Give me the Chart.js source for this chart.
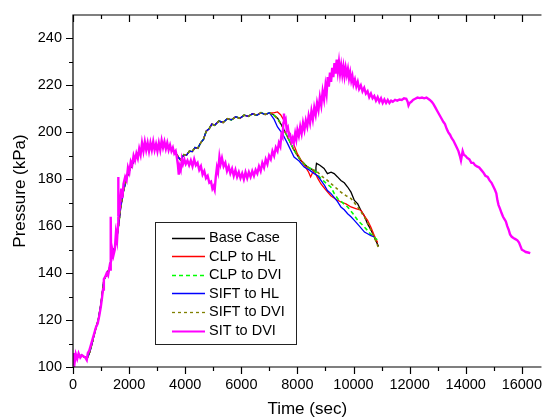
<!DOCTYPE html>
<html>
<head>
<meta charset="utf-8">
<script src="https://cdn.jsdelivr.net/npm/chart.js@4.4.1/dist/chart.umd.min.js"></script>
<style>
  html, body { margin: 0; padding: 0; background: #fff; }
  #wrap { width: 542px; height: 419px; }
</style>
</head>
<body>
<div id="wrap"><canvas id="pressureChart" width="542" height="419"></canvas></div>
<script>
/* pressure vs time — six break cases */

const xTickValues = [0, 2000, 4000, 6000, 8000, 10000, 12000, 14000, 16000];
const yTickValues = [100, 120, 140, 160, 180, 200, 220, 240];

// SIT to DVI (magenta)
const sitTime = [
  0, 30, 60, 100, 150, 200, 260, 320, 380, 440,
  490, 530, 580, 640, 700, 760, 820, 880, 940, 990,
  1030, 1070, 1100, 1150, 1200, 1250, 1300, 1330, 1345, 1360,
  1400, 1440, 1490, 1530, 1570, 1605, 1612, 1620, 1670, 1720,
  1760, 1800, 1860, 1910, 1960, 2010, 2060, 2110, 2160, 2210,
  2260, 2310, 2360, 2410, 2460, 2510, 2560, 2610, 2660, 2710,
  2760, 2810, 2860, 2910, 2960, 3010, 3060, 3110, 3160, 3210,
  3260, 3310, 3360, 3410, 3460, 3510, 3560, 3610, 3660, 3700,
  3740, 3770, 3800, 3840, 3880, 3920, 3970, 4020, 4080, 4140,
  4200, 4260, 4320, 4380, 4440, 4500, 4560, 4620, 4680, 4740,
  4800, 4860, 4920, 4970, 5010, 5050, 5090, 5130, 5170, 5220,
  5260, 5310, 5370, 5430, 5490, 5550, 5610, 5670, 5730, 5790,
  5850, 5910, 5970, 6030, 6090, 6150, 6210, 6270, 6330, 6390,
  6450, 6510, 6570, 6630, 6690, 6750, 6810, 6870, 6930, 6990,
  7050, 7110, 7170, 7230, 7290, 7340, 7390, 7430, 7470, 7500,
  7520, 7540, 7580, 7620, 7660, 7700, 7740, 7790, 7830, 7870,
  7920, 7960, 8000, 8050, 8100, 8150, 8200, 8250, 8300, 8350,
  8400, 8450, 8500, 8550, 8600, 8650, 8700, 8750, 8800, 8850,
  8900, 8950, 9000, 9040, 9080, 9120, 9160, 9200, 9240, 9280,
  9320, 9360, 9400, 9440, 9480, 9520, 9560, 9600, 9640, 9680,
  9720, 9760, 9800, 9840, 9880, 9920, 9960, 10000, 10050, 10100,
  10150, 10200, 10260, 10320, 10380, 10440, 10500, 10560, 10620, 10680,
  10740, 10800, 10860, 10920, 10980, 11040, 11100, 11160, 11220, 11280,
  11340, 11400, 11480, 11560, 11640, 11720, 11800, 11880, 11930, 11960,
  12000, 12060, 12120, 12200, 12280, 12360, 12440, 12520, 12600, 12660,
  12720, 12790, 12850, 12920, 12990, 13060, 13130, 13200, 13260, 13320,
  13380, 13440, 13500, 13560, 13620, 13680, 13740, 13790, 13830, 13860,
  13890, 13930, 13990, 14060, 14130, 14200, 14270, 14330, 14400, 14480,
  14550, 14620, 14700, 14780, 14850, 14920, 14980, 15040, 15090, 15130,
  15170, 15220, 15280, 15330, 15380, 15430, 15480, 15530, 15580, 15640,
  15700, 15770, 15840, 15900, 15950, 16000, 16070, 16140, 16220, 16300
];
const sitPressure = [
  101, 106, 102, 105.5, 103.5, 105.8, 104, 105, 104.5, 104,
  103, 106, 107, 109.5, 112, 114.5, 117, 118.5, 122, 125.5,
  129, 133, 137.5, 138.5, 140, 139, 142.5, 141.5, 164, 145,
  150, 147.5, 150, 157, 154, 161, 181, 164, 168, 176,
  172, 178, 181, 179.5, 185, 183, 187.5, 186, 190, 188,
  191, 189, 193, 190.5, 195.5, 192, 196, 192.5, 195.5, 192,
  195.5, 192.5, 196, 192.5, 195, 192, 195.5, 192.5, 196.5, 193.5,
  196, 193, 195.5, 192.5, 194.5, 192, 193.5, 191, 192, 189.5,
  186, 182, 185.5, 184, 188.5, 186.5, 188.5, 186.5, 188, 186,
  188, 185.5, 188.5, 186, 187, 184, 185.5, 182, 183.5, 180.5,
  181.5, 178.5, 179, 176, 177, 175.5, 181, 185, 183, 189.5,
  186.5, 189, 185.5, 187, 183.5, 185.5, 182.5, 184.5, 181.5, 184,
  181, 183, 180.5, 182.5, 180, 183, 180.5, 183, 181, 183.5,
  181.5, 184, 182.5, 185.5, 183.5, 187, 185, 188.5, 186.5, 190,
  188.5, 192, 190, 193.5, 192, 195.5, 194, 199, 198, 204,
  208, 204.5, 205.5, 201, 202, 198.5, 199, 196, 197.5, 195.5,
  199.5, 197, 201, 198.5, 202.5, 199.5, 204, 201, 205, 202.5,
  207, 204, 209, 205.5, 210.5, 207.5, 212.5, 209.5, 215, 211.5,
  217.5, 214, 220, 216.5, 223.5, 219.5, 225.5, 221.5, 227.5, 223.5,
  229.5, 225, 231, 226, 230, 225, 228.5, 224.5, 228, 224,
  227.5, 224.5, 227, 223, 225.5, 222, 224, 220.5, 222.5, 219.5,
  221.5, 218.5, 220, 217.5, 219, 216.5, 217.5, 215, 216.5, 214.5,
  215.5, 213.5, 215, 213, 214.5, 212.5, 214, 212.5, 213.8, 212.5,
  213.5, 213, 213.8, 213.5, 214, 213.8, 214.5, 214.3, 213, 211.5,
  212.5, 213, 213.8, 214.3, 214.8, 214.6, 214.8, 214.5, 214.8, 214.3,
  213.8, 213, 212, 210.5, 209, 207.5, 206, 204.5, 203.5, 201.5,
  200, 199, 197.5, 196.5, 195, 193.5, 192, 190, 188, 190,
  192, 190.5, 190, 189, 188.5, 187, 187, 186, 185.5, 185,
  184, 183, 181.5, 181, 179.5, 178.5, 177, 175.5, 174, 171,
  169, 167.5, 165.5, 164, 163, 162, 160, 158.5, 156.5, 155.5,
  155, 154.5, 154, 153, 151.5, 150, 149.5, 149, 148.8, 148.5
];

// shared path of the other five cases up to ~7000 s
const commonTime = [
  0, 100, 200, 300, 450, 500, 600, 700, 800, 900,
  1000, 1100, 1200, 1300, 1400, 1500, 1600, 1700, 1800, 1900,
  2000, 2200, 2400, 2600, 2800, 3000, 3200, 3400, 3600, 3700,
  3780, 3830, 3880, 3950, 4050, 4150, 4250, 4350, 4450, 4550,
  4650, 4750, 4850, 4950, 5050, 5200, 5350, 5500, 5650, 5800,
  5950, 6100, 6250, 6400, 6550, 6700, 6850, 7000
];
const commonPressure = [
  103, 105, 104.5, 105, 104, 103.5, 106.5, 111, 116, 120,
  127, 137, 139.5, 142, 149, 151, 158, 168, 175, 180,
  183.5, 188.5, 192.5, 193.5, 193.5, 193.5, 194.5, 193.5, 192, 190.5,
  189, 188.3, 189, 190.5, 190.3, 192, 191.8, 193.5, 193.2, 195.5,
  197, 200.5, 201.5, 203.5, 203, 204.8, 204.2, 205.8, 205.3, 206.6,
  206, 207.3, 206.8, 207.9, 207.3, 208.4, 207.6, 208.3
];

// tails after the split
const baseTime = [7150, 7300, 7470, 7650, 7880, 8120, 8360, 8500, 8640, 8660, 8680, 8800, 8950, 9070, 9200, 9310, 9430, 9550, 9670, 9790, 9910, 10030, 10150, 10260, 10380, 10500, 10620, 10740, 10890];
const basePressure = [207.5, 205.9, 202.3, 198, 192.4, 188, 185.2, 184.3, 183.2, 185, 186.8, 186, 184.6, 182.4, 183, 182.4, 181, 179.5, 178.5, 176.7, 174.5, 171, 169.5, 166.8, 164.5, 161, 158.5, 155.3, 151.4];

const clpHlTime = [7150, 7290, 7400, 7500, 7580, 7670, 7760, 7880, 8000, 8140, 8290, 8400, 8470, 8540, 8600, 8720, 8840, 9010, 9190, 9370, 9550, 9730, 9910, 10080, 10260, 10380, 10500, 10620, 10740, 10860];
const clpHlPressure = [208.3, 208.7, 207.5, 205.5, 203.7, 201, 198, 194.5, 190.8, 188, 185.2, 183, 181, 182.8, 183.5, 180.5, 178, 175.5, 173, 171.5, 170.3, 169.5, 168.2, 167.5, 166.8, 164.5, 162.5, 159.5, 156, 153];

const clpDviTime = [7150, 7290, 7470, 7650, 7880, 8120, 8360, 8600, 8720, 8840, 9010, 9190, 9310, 9430, 9610, 9790, 9970, 10150, 10320, 10500, 10620, 10740, 10860];
const clpDviPressure = [207.3, 205.9, 202.3, 198, 192.4, 188, 185.2, 183.8, 182, 180.3, 178.5, 176.7, 174, 171.8, 170, 168.2, 165.5, 162.5, 160.5, 158.2, 156.5, 155.3, 154];

const siftHlTime = [7050, 7170, 7290, 7470, 7650, 7880, 8060, 8240, 8420, 8600, 8720, 8840, 8960, 9070, 9190, 9310, 9430, 9550, 9670, 9790, 9910, 10030, 10210, 10390, 10500, 10620, 10720];
const siftHlPressure = [207.5, 205.5, 202.3, 199.4, 195.2, 189.5, 187.8, 185.2, 184, 182.4, 181.5, 179.5, 177.5, 175.2, 174, 172.3, 170.5, 168.2, 167, 165.3, 164, 162.5, 160, 157.5, 156.8, 156, 155.5];

const siftDviTime = [7150, 7290, 7470, 7650, 7880, 8120, 8360, 8600, 8720, 8900, 9070, 9310, 9550, 9730, 9910, 10030, 10150, 10270, 10390, 10500, 10620, 10750, 10880];
const siftDviPressure = [207.5, 205.9, 202.3, 198, 192.4, 188, 185.2, 183.8, 183, 181, 179.5, 177, 174.5, 173, 171.8, 170, 168.2, 166, 163.9, 161.5, 158.2, 155, 151.1];

const seriesNames = ['Base Case', 'CLP to HL', 'CLP to DVI', 'SIFT to HL', 'SIFT to DVI', 'SIT to DVI'];

const FONT = "'Liberation Sans', Arial, sans-serif";

function pts(t, p) { return t.map((v, i) => ({ x: v, y: p[i] })); }
function withCommon(t, p) {
  const n = commonTime.findIndex(v => v >= t[0]);
  const k = n < 0 ? commonTime.length : n;
  return pts(commonTime.slice(0, k).concat(t), commonPressure.slice(0, k).concat(p));
}

const styles = [
  { color: '#000000', dash: [], width: 1.3 },
  { color: '#ff0000', dash: [], width: 1.3 },
  { color: '#00ff00', dash: [4, 3], width: 1.6 },
  { color: '#0000ff', dash: [], width: 1.3 },
  { color: '#808000', dash: [3, 3], width: 1.6 },
  { color: '#ff00ff', dash: [], width: 2.4 },
];

const seriesData = [
  withCommon(baseTime, basePressure),
  withCommon(clpHlTime, clpHlPressure),
  withCommon(clpDviTime, clpDviPressure),
  withCommon(siftHlTime, siftHlPressure),
  withCommon(siftDviTime, siftDviPressure),
  pts(sitTime, sitPressure),
];

const datasets = seriesNames.map((name, i) => ({
  label: name,
  data: seriesData[i],
  borderColor: styles[i].color,
  borderDash: styles[i].dash,
  borderWidth: styles[i].width,
  pointRadius: 0,
  tension: 0,
  fill: false,
  order: i === 5 ? 0 : 6 - i,
}));

// frame, major + minor tick marks, boxed legend
const frame = {
  id: 'frame',
  afterDatasetsDraw(chart) {
    const { ctx, chartArea: a, scales: { x, y } } = chart;
    ctx.save();
    ctx.strokeStyle = '#000';
    ctx.lineWidth = 1.2;
    ctx.setLineDash([]);
    ctx.beginPath();
    ctx.moveTo(a.right, a.top); ctx.lineTo(a.left, a.top);
    ctx.lineTo(a.left, a.bottom); ctx.lineTo(a.right, a.bottom);
    x.ticks.forEach(t => {
      [[t.value, 7], [t.value + 1000, 4]].forEach(([v, len]) => {
        if (v > x.max) return;
        const px = Math.round(x.getPixelForValue(v)) + 0.5;
        ctx.moveTo(px, a.bottom); ctx.lineTo(px, a.bottom + len);
        ctx.moveTo(px, a.top); ctx.lineTo(px, a.top + len);
      });
    });
    y.ticks.forEach(t => {
      [[t.value, 7], [t.value + 10, 4]].forEach(([v, len]) => {
        if (v >= y.max) return;
        const py = Math.round(y.getPixelForValue(v)) + 0.5;
        ctx.moveTo(a.left - len, py); ctx.lineTo(a.left, py);
      });
    });
    ctx.stroke();

    // legend
    const box = { x: 155.5, y: 222.5, w: 141, h: 122 };
    ctx.fillStyle = '#fff';
    ctx.fillRect(box.x, box.y, box.w, box.h);
    ctx.lineWidth = 1;
    ctx.strokeStyle = '#222';
    ctx.strokeRect(box.x, box.y, box.w, box.h);
    ctx.font = '14.5px ' + FONT;
    ctx.textBaseline = 'middle';
    ctx.fillStyle = '#000';
    seriesNames.forEach((name, i) => {
      const ry = 237.5 + i * 18.6;
      ctx.beginPath();
      ctx.strokeStyle = styles[i].color;
      ctx.lineWidth = i === 5 ? 2 : 1.3;
      ctx.setLineDash(styles[i].dash);
      ctx.moveTo(172, Math.round(ry) + 0.5); ctx.lineTo(205, Math.round(ry) + 0.5);
      ctx.stroke();
      ctx.fillText(name, 209, ry + 0.5);
    });
    ctx.restore();
  },
};

new Chart(document.getElementById('pressureChart').getContext('2d'), {
  type: 'line',
  data: { datasets },
  plugins: [frame],
  options: {
    responsive: false,
    animation: false,
    layout: { padding: { top: 15, right: 0, left: 0, bottom: 0 } },
    plugins: { legend: { display: false }, tooltip: { enabled: false } },
    scales: {
      x: {
        type: 'linear', min: 0, max: 16700,
        afterFit: s => { s.height = 52; },
        afterBuildTicks: s => { s.ticks = xTickValues.map(v => ({ value: v })); },
        grid: { display: false, drawTicks: true, tickLength: 9 },
        border: { display: false },
        ticks: {
          autoSkip: false, maxRotation: 0, padding: 0,
          color: '#000', font: { family: FONT, size: 14.5 },
          callback: v => String(v),
        },
        title: { display: true, text: 'Time (sec)', color: '#000', font: { family: FONT, size: 17, lineHeight: 1 }, padding: { top: 0, bottom: 1 } },
      },
      y: {
        type: 'linear', min: 100, max: 250,
        afterFit: s => { s.width = 73; },
        afterBuildTicks: s => { s.ticks = yTickValues.map(v => ({ value: v })); },
        grid: { display: false, drawTicks: true, tickLength: 11 },
        border: { display: false },
        ticks: {
          autoSkip: false, padding: 0,
          color: '#000', font: { family: FONT, size: 14.5 },
          callback: v => String(v),
        },
        title: { display: true, text: 'Pressure (kPa)', color: '#000', font: { family: FONT, size: 17, lineHeight: 1 }, padding: { top: 11.5, bottom: 0 } },
      },
    },
  },
});
</script>
</body>
</html>
